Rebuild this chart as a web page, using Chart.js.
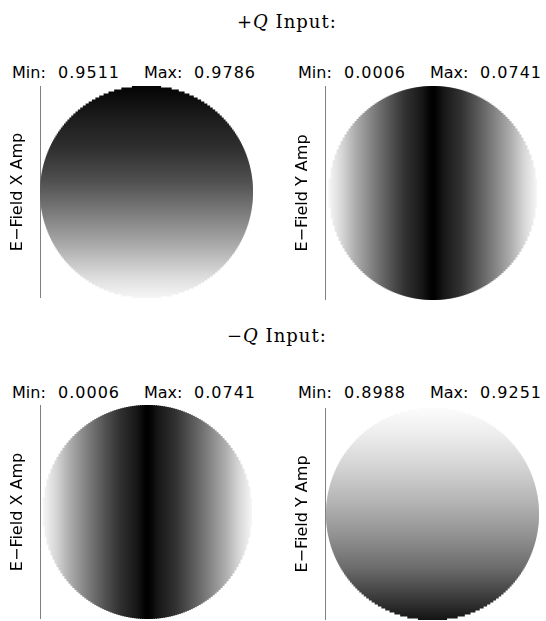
<!DOCTYPE html>
<html><head><meta charset="utf-8">
<script src="https://cdn.jsdelivr.net/npm/chart.js@4.4.1/dist/chart.umd.min.js"></script>
<style>
html,body{margin:0;padding:0;background:#fff;}
body{width:546px;height:621px;position:relative;overflow:hidden;}
.t{position:absolute;white-space:pre;font-family:"DejaVu Serif";font-size:18px;letter-spacing:1px;color:#000;line-height:18px;}
.m{position:absolute;white-space:pre;font-family:"DejaVu Sans";font-size:16px;color:#000;line-height:16px;}
.n{letter-spacing:1px;}
canvas{position:absolute;}
</style></head><body>
<div id="root"></div>
<script>
// ---- data ----
const SECTION_TITLES = ['+', 'Q', ' Input:', '\u2212', 'Q', ' Input:'];
const FIELD_LABELS = ['E\u2212Field X Amp', 'E\u2212Field Y Amp', 'E\u2212Field X Amp', 'E\u2212Field Y Amp'];
const MIN_VALUES = ['0.9511', '0.0006', '0.0006', '0.8988'];
const MAX_VALUES = ['0.9786', '0.0741', '0.0741', '0.9251'];
// gray level profiles (0 = black, 255 = white)
// +Q, E-field X: top -> bottom
const PROFILE_POS_PQ_X = [0, 0.15, 0.3, 0.45, 0.6, 0.75, 0.9, 1];
const PROFILE_GRAY_PQ_X = [4, 28, 48, 80, 124, 170, 220, 246];
// +Q E-field Y and -Q E-field X: distance |x| from the centre line
const PROFILE_POS_BAND = [0, 0.03, 0.1, 0.27, 0.42, 0.59, 0.75, 0.875, 1];
const PROFILE_GRAY_BAND = [0, 4, 22, 50, 86, 130, 174, 214, 246];
// -Q, E-field Y: top -> bottom
const PROFILE_POS_NQ_Y = [0, 0.127, 0.288, 0.443, 0.6, 0.76, 0.88, 1];
const PROFILE_GRAY_NQ_Y = [252, 236, 210, 180, 146, 106, 64, 20];

// ---- layout ----
const PANELS = [
  {lineX: 40, top: 86, bottom: 298, left: 40, right: 253, dir: 'rows', pos: PROFILE_POS_PQ_X, gray: PROFILE_GRAY_PQ_X, textY: 64.5, textX: [12, 58, 144, 194]},
  {lineX: 325, top: 86, bottom: 300, left: 329, right: 537, dir: 'cols', pos: PROFILE_POS_BAND, gray: PROFILE_GRAY_BAND, textY: 64.5, textX: [298, 344, 430, 480]},
  {lineX: 40, top: 405, bottom: 619, left: 43, right: 252, dir: 'cols', pos: PROFILE_POS_BAND, gray: PROFILE_GRAY_BAND, textY: 384.5, textX: [12, 58, 144, 194]},
  {lineX: 325, top: 408, bottom: 620, left: 326, right: 539, dir: 'rows', pos: PROFILE_POS_NQ_Y, gray: PROFILE_GRAY_NQ_Y, textY: 384.5, textX: [298, 344, 430, 480]}
];

const root = document.getElementById('root');
function addText(cls, html, x, y) {
  const d = document.createElement('div');
  d.className = cls; d.innerHTML = html; d.style.left = x + 'px'; d.style.top = y + 'px';
  root.appendChild(d); return d;
}
addText('t', SECTION_TITLES[0] + '<i>' + SECTION_TITLES[1] + '</i>' + SECTION_TITLES[2], 237, 13);
addText('t', SECTION_TITLES[3] + '<i>' + SECTION_TITLES[4] + '</i>' + SECTION_TITLES[5], 227, 327);

function grayCss(g) { return 'rgb(' + g + ',' + g + ',' + g + ')'; }
function makeGradient(chart, p) {
  const ctx = chart.ctx;
  if (p.dir === 'rows') {
    const ys = chart.scales.y;
    const g = ctx.createLinearGradient(0, ys.getPixelForValue(1), 0, ys.getPixelForValue(-1));
    p.pos.forEach((t, i) => g.addColorStop(t, grayCss(p.gray[i])));
    return g;
  }
  const xs = chart.scales.x;
  const g = ctx.createLinearGradient(xs.getPixelForValue(-1), 0, xs.getPixelForValue(1), 0);
  for (let i = p.pos.length - 1; i >= 0; i--) g.addColorStop(0.5 - p.pos[i] / 2, grayCss(p.gray[i]));
  for (let i = 0; i < p.pos.length; i++) g.addColorStop(0.5 + p.pos[i] / 2, grayCss(p.gray[i]));
  return g;
}

PANELS.forEach((p, k) => {
  addText('m', 'Min:', p.textX[0], p.textY);
  addText('m n', MIN_VALUES[k], p.textX[1], p.textY);
  addText('m', 'Max:', p.textX[2], p.textY);
  addText('m n', MAX_VALUES[k], p.textX[3], p.textY);

  const cv = document.createElement('canvas');
  const w = p.right - p.lineX + 40, h = p.bottom - p.top;
  cv.width = w; cv.height = h;
  cv.style.left = (p.lineX - 40) + 'px'; cv.style.top = p.top + 'px';
  cv.style.width = w + 'px'; cv.style.height = h + 'px';
  root.appendChild(cv);

  // disc of the aperture, one strip per image row / column
  const span = p.right - p.left;
  const offMin = -1 - 2 * (p.left - p.lineX) / span;
  let n, data;
  if (p.dir === 'rows') {
    n = Math.round(h / 2);
    data = Array.from({length: n}, (_, i) => {
      const v = 1 - (i + 0.5) * 2 / n; const hw = Math.sqrt(Math.max(0, 1 - v * v));
      return {y: v, x: [-hw, hw]};
    });
  } else {
    n = Math.round(span / 2);
    data = Array.from({length: n}, (_, i) => {
      const u = -1 + (i + 0.5) * 2 / n; const hh = Math.sqrt(Math.max(0, 1 - u * u));
      return {x: u, y: [-hh, hh]};
    });
  }
  let cache = null;
  new Chart(cv, {
    type: 'bar',
    data: {datasets: [{
      data: data,
      backgroundColor: (c) => { const ch = c.chart; if (!ch.chartArea) return '#000'; return cache || (cache = makeGradient(ch, p)); },
      borderWidth: 0, barPercentage: 1.5, categoryPercentage: 1
    }]},
    options: {
      indexAxis: p.dir === 'rows' ? 'y' : 'x',
      responsive: false, animation: false, events: [],
      plugins: {legend: {display: false}, tooltip: {enabled: false}},
      layout: {padding: 0},
      scales: {
        x: {type: 'linear', display: false, offset: false, min: offMin, max: 1},
        y: {type: 'linear', position: 'left', offset: false, min: -1, max: 1,
            ticks: {display: false}, grid: {display: false, drawTicks: false, offset: false},
            border: {display: true, color: '#808080', width: 1},
            title: {display: true, text: FIELD_LABELS[k], color: '#000', font: {family: 'DejaVu Sans', size: 16}, padding: {top: 8.4, bottom: 0}},
            afterFit: (s) => { s.width = 40; }}
      }
    }
  });
});
</script>
</body></html>
